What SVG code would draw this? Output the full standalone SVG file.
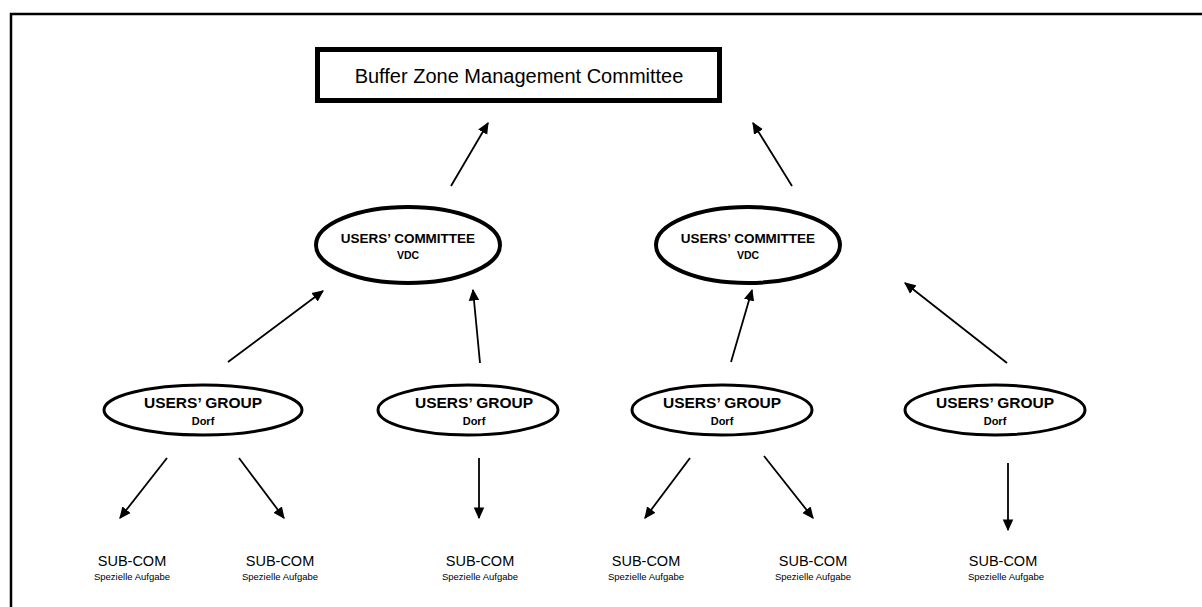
<svg xmlns="http://www.w3.org/2000/svg" width="1202" height="607" viewBox="0 0 1202 607">
<defs>
<marker id="ah" viewBox="0 0 10 10" refX="9" refY="5" markerWidth="6.5" markerHeight="6.5" markerUnits="strokeWidth" orient="auto">
<path d="M0,0.5 L10,5 L0,9.5 z" fill="#000"/>
</marker>
<style>
.frame{fill:none;stroke:#000;stroke-width:2.5}
.box{fill:#fff;stroke:#000;stroke-width:5}
.com{fill:#fff;stroke:#000;stroke-width:4}
.grp{fill:#fff;stroke:#000;stroke-width:3}
.t{font-family:"Liberation Sans",Arial,sans-serif;text-anchor:middle;fill:#000}
.b{font-weight:bold}
.conn line{stroke:#000;stroke-width:1.8;marker-end:url(#ah)}
</style>
</defs>
<rect width="1202" height="607" fill="#fff"/>
<path class="frame" d="M11,607 V14 H1202"/>
<g id="bzmc">
<rect class="box" x="317.5" y="49.5" width="402" height="51"/>
<text class="t" x="519" y="83" font-size="20">Buffer Zone Management Committee</text>
</g>
<g id="uc1">
<ellipse class="com" cx="408" cy="245" rx="92" ry="38"/>
<text class="t b" x="408" y="243" font-size="13.5">USERS’ COMMITTEE</text>
<text class="t b" x="408" y="259" font-size="10.5">VDC</text>
</g>
<g id="uc2">
<ellipse class="com" cx="748" cy="245" rx="92" ry="38"/>
<text class="t b" x="748" y="243" font-size="13.5">USERS’ COMMITTEE</text>
<text class="t b" x="748" y="259" font-size="10.5">VDC</text>
</g>
<g id="ug1">
<ellipse class="grp" cx="203" cy="410" rx="99" ry="25"/>
<text class="t b" x="203" y="408" font-size="15.5">USERS’ GROUP</text>
<text class="t b" x="203" y="425" font-size="11">Dorf</text>
</g>
<g id="ug2">
<ellipse class="grp" cx="468" cy="410" rx="90" ry="25"/>
<text class="t b" x="474" y="408" font-size="15.5">USERS’ GROUP</text>
<text class="t b" x="474" y="425" font-size="11">Dorf</text>
</g>
<g id="ug3">
<ellipse class="grp" cx="722" cy="410" rx="90" ry="25"/>
<text class="t b" x="722" y="408" font-size="15.5">USERS’ GROUP</text>
<text class="t b" x="722" y="425" font-size="11">Dorf</text>
</g>
<g id="ug4">
<ellipse class="grp" cx="995" cy="410" rx="90" ry="25"/>
<text class="t b" x="995" y="408" font-size="15.5">USERS’ GROUP</text>
<text class="t b" x="995" y="425" font-size="11">Dorf</text>
</g>
<g id="sc1"><text class="t" x="132" y="566" font-size="14.5">SUB-COM</text><text class="t" x="132" y="580" font-size="9.5">Spezielle Aufgabe</text></g>
<g id="sc2"><text class="t" x="280" y="566" font-size="14.5">SUB-COM</text><text class="t" x="280" y="580" font-size="9.5">Spezielle Aufgabe</text></g>
<g id="sc3"><text class="t" x="480" y="566" font-size="14.5">SUB-COM</text><text class="t" x="480" y="580" font-size="9.5">Spezielle Aufgabe</text></g>
<g id="sc4"><text class="t" x="646" y="566" font-size="14.5">SUB-COM</text><text class="t" x="646" y="580" font-size="9.5">Spezielle Aufgabe</text></g>
<g id="sc5"><text class="t" x="813" y="566" font-size="14.5">SUB-COM</text><text class="t" x="813" y="580" font-size="9.5">Spezielle Aufgabe</text></g>
<g id="sc6"><text class="t" x="1003" y="566" font-size="14.5">SUB-COM</text><text class="t" x="1006" y="580" font-size="9.5">Spezielle Aufgabe</text></g>
<g id="connectors" class="conn">
<line x1="451" y1="186" x2="488" y2="123"/>
<line x1="792" y1="186" x2="753" y2="123"/>
<line x1="228" y1="362" x2="323" y2="291"/>
<line x1="480" y1="363" x2="473" y2="290"/>
<line x1="731" y1="362" x2="752" y2="290"/>
<line x1="1007" y1="363" x2="905" y2="283"/>
<line x1="167" y1="458" x2="120" y2="518"/>
<line x1="239" y1="458" x2="284" y2="518"/>
<line x1="479" y1="458" x2="479" y2="518"/>
<line x1="690" y1="458" x2="645" y2="518"/>
<line x1="764" y1="456" x2="813" y2="518"/>
<line x1="1008" y1="463" x2="1008" y2="530"/>
</g>
</svg>
